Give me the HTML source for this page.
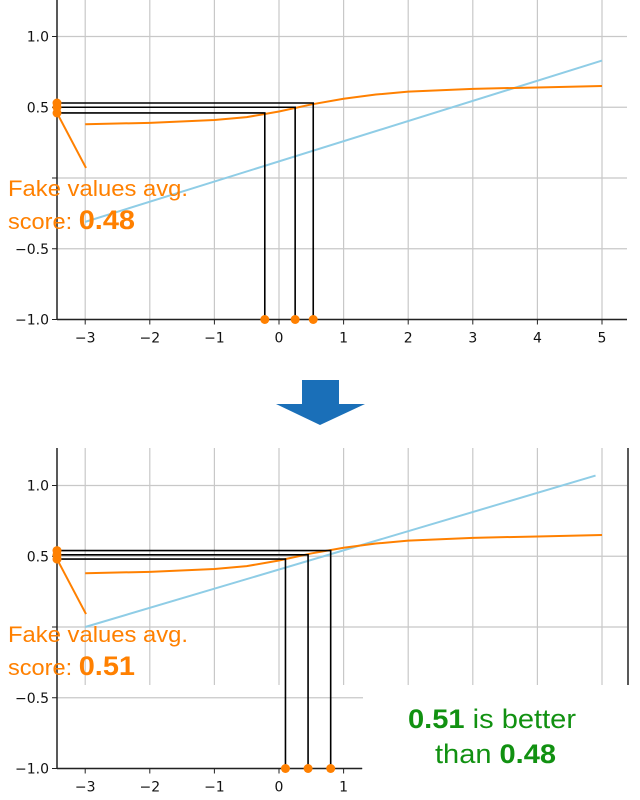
<!DOCTYPE html>
<html><head><meta charset="utf-8"><style>
body{margin:0;background:#fff;}
svg{display:block;font-family:"DejaVu Sans","Liberation Sans",sans-serif;}
.ann{font-family:"Liberation Sans",sans-serif;}
</style></head><body>
<svg id="s" width="640" height="800"></svg>
<script>
const xTicks=[-3,-2,-1,0,1,2,3,4,5];
const yTicks=[1.0,0.5,0,-0.5,-1.0];
const yTickLabels=["1.0","0.5","","\u22120.5","\u22121.0"];
const curveX=[-3,-2,-1,-0.5,0,0.5,1,1.5,2,3,4,5];
const curveY=[0.38,0.39,0.41,0.43,0.47,0.52,0.56,0.59,0.61,0.63,0.64,0.65];
const topLineX=[-3,5];
const topLineY=[-0.31,0.83];
const botLineX=[-3,4.9];
const botLineY=[0.0,1.07];
const topDropX=[-0.22,0.25,0.53];
const topDropY=[0.46,0.50,0.53];
const botDropX=[0.1,0.45,0.8];
const botDropY=[0.48,0.51,0.54];

const svg=document.getElementById('s');
const NS='http://www.w3.org/2000/svg';
function mk(t,a,p){const e=document.createElementNS(NS,t);for(const k in a)e.setAttribute(k,a[k]);(p||svg).appendChild(e);return e;}

function panel(name,y0,topY,bottomY,xMaxAxis,gridBottom,lx,ly,dx,dy,score,rightSpine){
  const g=mk('g',{});
  
  
  const X=v=>279+v*64.6;
  const Y=v=>y0-v*141.5;
  xTicks.forEach(t=>{const l=mk('line',{x1:X(t),x2:X(t),y1:topY,y2:gridBottom,stroke:'#c8c8c8','stroke-width':1.2},g);
    
    });
  yTicks.forEach(t=>{const l=mk('line',{x1:57,x2:627,y1:Y(t),y2:Y(t),stroke:'#c8c8c8','stroke-width':1.2},g);
    
    });
  mk('line',{x1:57,x2:57,y1:topY,y2:Y(-1),stroke:'#222','stroke-width':1.5},g);
  mk('line',{x1:57,x2:xMaxAxis,y1:Y(-1),y2:Y(-1),stroke:'#222','stroke-width':1.5},g);
  if(rightSpine)mk('line',{x1:628,x2:628,y1:topY,y2:gridBottom,stroke:'#222','stroke-width':1.5},g);
  xTicks.forEach(t=>{if(X(t)>xMaxAxis)return;
    mk('line',{x1:X(t),x2:X(t),y1:Y(-1),y2:Y(-1)+5,stroke:'#222'},g);
    const tx=mk('text',{x:X(t),y:Y(-1)+23,'text-anchor':'middle','font-size':14,fill:'#111'},g);
    tx.textContent=t<0?'\u2212'+(-t):String(t);
    
    });
  yTicks.forEach((t,i)=>{mk('line',{x1:52,x2:57,y1:Y(t),y2:Y(t),stroke:'#222'},g);
    const tx=mk('text',{x:49,y:Y(t)+5,'text-anchor':'end','font-size':14,fill:'#111'},g);
    tx.textContent=yTickLabels[i];
    
    });
  const bl=mk('line',{x1:X(lx[0]),y1:Y(ly[0]),x2:X(lx[1]),y2:Y(ly[1]),stroke:'#8fcde6','stroke-width':2},g);
  
  
  const c=mk('polyline',{points:curveX.map((v,i)=>X(v)+','+Y(curveY[i])).join(' '),fill:'none',stroke:'#ff8000','stroke-width':2},g);
  
  
  dx.forEach((v,i)=>{const p=mk('polyline',{points:`${X(v)},${Y(-1)} ${X(v)},${Y(dy[i])} 57,${Y(dy[i])}`,fill:'none',stroke:'#000','stroke-width':1.6},g);
    
    
    const d1=mk('circle',{cx:X(v),cy:Y(-1),r:4.5,fill:'#ff8000'},g);
    
    
    const d2=mk('circle',{cx:57,cy:Y(dy[i]),r:4.5,fill:'#ff8000'},g);
    
    });
  mk('line',{x1:57,y1:Y(dy[0]),x2:86,y2:Y(dy[0])+55,stroke:'#ff8000','stroke-width':2},g);
  const t1=mk('text',{x:8,y:Y(dy[0])+83,'font-size':22,fill:'#ff8000',class:'ann',textLength:180,lengthAdjust:'spacingAndGlyphs'},g);
  t1.textContent='Fake values avg.';
  
  
  const t2=mk('text',{x:8,y:Y(dy[0])+116,'font-size':22,fill:'#ff8000',class:'ann',textLength:127,lengthAdjust:'spacingAndGlyphs'},g);
  t2.innerHTML='score: <tspan font-weight="bold" font-size="27">'+score+'</tspan>';
  
  
  return g;
}
panel('top-chart',178,0,320,627,320,topLineX,topLineY,topDropX,topDropY,'0.48',false);
panel('bottom-chart',627,448,769,362,685,botLineX,botLineY,botDropX,botDropY,'0.51',true);
const wb=mk('rect',{x:363,y:685,width:277,height:115,fill:'#fff'});


const c1=mk('text',{x:408,y:728,'font-size':27,fill:'#119111',class:'ann',textLength:168,lengthAdjust:'spacingAndGlyphs'});
c1.innerHTML='<tspan font-weight="bold">0.51</tspan> is better';


const c2=mk('text',{x:435,y:763,'font-size':27,fill:'#119111',class:'ann',textLength:121,lengthAdjust:'spacingAndGlyphs'});
c2.innerHTML='than <tspan font-weight="bold">0.48</tspan>';


const ar=mk('polygon',{points:'302,380 339,380 339,404 365,404 320,425 276,404 302,404',fill:'#1a6fb8'});


</script>
</body></html>
